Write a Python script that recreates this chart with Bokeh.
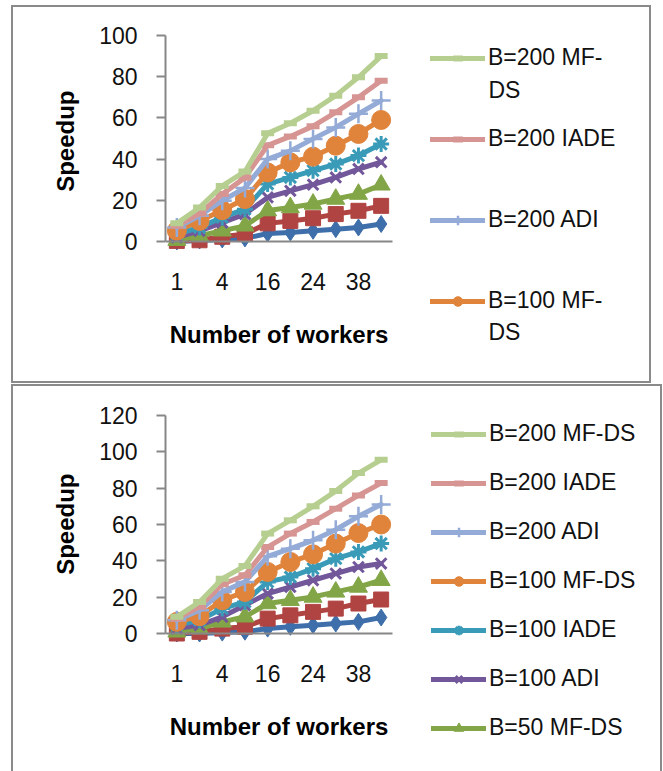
from bokeh.plotting import figure
from bokeh.layouts import column
from bokeh.models import Range1d, FixedTicker, Legend, LegendItem, Label
from bokeh.embed import file_html
from bokeh.resources import INLINE

# ---------------- data ----------------
category_labels = ["1", "", "4", "", "16", "", "24", "", "38", ""]
x_idx = list(range(len(category_labels)))

series_names = ["B=50 ADI", "B=50 IADE", "B=50 MF-DS", "B=100 ADI", "B=100 IADE",
                "B=100 MF-DS", "B=200 ADI", "B=200 IADE", "B=200 MF-DS"]

# top chart
top_b50_adi = [0.0, 0.5, 1.0, 1.5, 3.9, 4.4, 5.2, 6.0, 6.8, 8.5]
top_b50_iade = [0.3, 0.6, 2.3, 3.6, 8.8, 10.0, 11.3, 13.3, 14.9, 17.3]
top_b50_mfds = [0.6, 2.8, 5.2, 7.6, 15.0, 16.5, 18.2, 20.6, 23.0, 27.5]
top_b100_adi = [2.0, 5.2, 9.2, 13.3, 21.4, 24.6, 27.6, 31.1, 35.2, 38.5]
top_b100_iade = [3.6, 6.8, 11.7, 15.7, 27.9, 31.1, 34.4, 37.6, 41.7, 47.3]
top_b100_mfds = [5.2, 10.0, 15.2, 20.6, 33.5, 38.4, 41.2, 46.5, 52.2, 59.0]
top_b200_adi = [6.8, 12.5, 19.8, 26.0, 40.0, 44.0, 49.8, 55.4, 62.0, 68.4]
top_b200_iade = [7.6, 13.6, 23.0, 31.0, 46.7, 51.0, 56.0, 62.7, 70.0, 78.0]
top_b200_mfds = [8.8, 16.5, 27.0, 34.0, 52.5, 57.4, 63.5, 70.8, 79.7, 90.0]

# bottom chart
bot_b50_adi = [0.0, 0.0, 0.5, 1.0, 2.7, 3.7, 4.6, 5.5, 6.4, 8.8]
bot_b50_iade = [0.0, 0.9, 2.7, 3.7, 8.2, 10.0, 11.9, 13.7, 16.5, 18.7]
bot_b50_mfds = [0.9, 2.7, 6.4, 9.2, 16.5, 18.3, 20.1, 22.9, 25.6, 29.3]
bot_b100_adi = [2.7, 4.6, 9.2, 15.6, 22.0, 25.6, 29.3, 33.0, 36.6, 38.5]
bot_b100_iade = [4.6, 7.3, 13.7, 17.4, 28.4, 31.1, 35.7, 41.2, 44.9, 49.5]
bot_b100_mfds = [6.4, 9.5, 18.3, 22.9, 33.9, 39.4, 43.6, 49.5, 55.3, 60.0]
bot_b200_adi = [7.3, 12.8, 22.9, 28.4, 42.5, 46.7, 51.3, 57.1, 64.5, 71.0]
bot_b200_iade = [8.2, 14.7, 27.1, 32.0, 47.6, 55.0, 61.4, 68.7, 76.0, 82.8]
bot_b200_mfds = [9.2, 17.4, 30.2, 37.2, 55.0, 62.3, 70.0, 78.4, 88.3, 95.6]

top_series = [top_b50_adi, top_b50_iade, top_b50_mfds, top_b100_adi, top_b100_iade,
              top_b100_mfds, top_b200_adi, top_b200_iade, top_b200_mfds]
bot_series = [bot_b50_adi, bot_b50_iade, bot_b50_mfds, bot_b100_adi, bot_b100_iade,
              bot_b100_mfds, bot_b200_adi, bot_b200_iade, bot_b200_mfds]

# ---------------- styles ----------------
colors = ["#3F6FAA", "#B04442", "#82A647", "#72579A", "#3A9BB8",
          "#E0843C", "#93ABD6", "#D69593", "#B6CF90"]
markers = ["diamond", "square", "triangle", "x", "asterisk",
           "circle", "cross", "dash", "dash"]
msizes = [17, 15, 18, 15, 16, 19, 19, 13, 13]
mlw = [1, 1, 1, 3, 3, 1, 2.5, 6, 6]

FONT = "Liberation Sans"
AX_GRAY = "#878787"
PLOT_W = 227  # pixel width of the plotting area (10 categories)


def make_fig(values, ymax, ystep, width, height, plot_h, extra_below,
             mb_top, margin, shadow, title_offset):
    n = len(category_labels)
    frame_w = width - 154 - 6
    x_end = -0.5 + n * frame_w / PLOT_W
    y_start = -ymax * extra_below / plot_h
    p = figure(width=width, height=height, output_backend="svg", toolbar_location=None,
               x_range=Range1d(-0.5, x_end), y_range=Range1d(y_start, ymax),
               min_border_left=154, min_border_right=6,
               min_border_top=mb_top, min_border_bottom=height - mb_top - plot_h - extra_below,
               margin=margin, border_fill_color=None, background_fill_color=None,
               outline_line_color=None, styles={"box-shadow": shadow},
               title="Speedup", title_location="left")
    p.xgrid.visible = False
    p.ygrid.visible = False

    p.title.align = "right"
    p.title.offset = title_offset
    p.title.text_font = FONT
    p.title.text_font_size = "24px"
    p.title.text_font_style = "bold"
    p.title.text_color = "#000000"
    p.title.standoff = 36

    renderers = []
    for vals, c, m, s, lw in zip(values, colors, markers, msizes, mlw):
        ln = p.line(x_idx, vals, line_color=c, line_width=5, line_join="round", line_cap="round")
        sc = p.scatter(x_idx, vals, marker=m, size=s, fill_color=c, line_color=c, line_width=lw)
        renderers.append((ln, sc))

    p.xaxis.ticker = FixedTicker(ticks=[i for i, l in enumerate(category_labels) if l])
    p.xaxis.major_label_overrides = {i: l for i, l in enumerate(category_labels) if l}
    p.xaxis.bounds = (-0.5, n - 0.5)
    p.xaxis.fixed_location = 0
    p.yaxis.ticker = FixedTicker(ticks=list(range(0, ymax + 1, ystep)))
    p.yaxis.bounds = (0, ymax)

    for ax in (p.xaxis, p.yaxis):
        ax.axis_line_color = AX_GRAY
        ax.axis_line_width = 2
        ax.major_tick_line_color = AX_GRAY
        ax.major_tick_line_width = 2
        ax.minor_tick_line_color = None
        ax.major_label_text_font = FONT
        ax.major_label_text_font_size = "23px"
        ax.major_label_text_color = "#111111"
        ax.axis_label_text_font = FONT
        ax.axis_label_text_font_style = "bold"
        ax.axis_label_text_font_size = "24px"
        ax.axis_label_text_color = "#000000"
    p.xaxis.major_tick_out = 0
    p.xaxis.major_tick_in = 0
    p.yaxis.major_tick_out = 9
    p.yaxis.major_tick_in = 0
    p.xaxis.major_label_standoff = 31
    p.yaxis.major_label_standoff = 19
    p.xaxis.axis_label = "Number of workers"
    p.xaxis.axis_label_standoff = 28
    return p, renderers


def make_legend(items, location, spacing):
    return Legend(items=items, location=location, padding=0, margin=0, spacing=spacing,
                  glyph_width=55, glyph_height=24, label_height=24, label_standoff=3,
                  label_text_font=FONT, label_text_font_size="23px",
                  label_text_color="#111111", border_line_color=None,
                  background_fill_alpha=0)


# top chart: figure at page (11, 5); plot area 206 px tall; frame extends 129 px below 0
p1, r1 = make_fig(top_series, 100, 20, 640, 378, 206, 129, 30, (5, 0, 0, 11),
                  "inset 0 0 0 2px #8a8a8a", 55)
top_legend_labels = ["B=200 MF-", "B=200 IADE", "B=200 ADI", "B=100 MF-"]
top_legend_idx = [8, 7, 6, 5]
p1.add_layout(make_legend([LegendItem(label=l, renderers=list(r1[i]))
                           for l, i in zip(top_legend_labels, top_legend_idx)],
                          (265, 56), spacing=54), "center")
for ly in (281, 39):
    p1.add_layout(Label(x=323, y=ly, x_units="screen", y_units="screen", text="DS",
                        text_font=FONT, text_font_size="23px", text_color="#111111",
                        text_baseline="middle", text_align="left"))

# bottom chart: figure at page (11, 384); plot area 218 px tall; frame extends 131 px below 0
p2, r2 = make_fig(bot_series, 120, 20, 651, 387, 218, 131, 31, (1, 0, 0, 11),
                  "inset 2px 2px 0 0 #8a8a8a, inset -2px 0 0 0 #8a8a8a", 58)
bot_legend_labels = ["B=200 MF-DS", "B=200 IADE", "B=200 ADI", "B=100 MF-DS",
                     "B=100 IADE", "B=100 ADI", "B=50 MF-DS"]
bot_legend_idx = [8, 7, 6, 5, 4, 3, 2]
p2.add_layout(make_legend([LegendItem(label=l, renderers=list(r2[i]))
                           for l, i in zip(bot_legend_labels, bot_legend_idx)],
                          (266, 23), spacing=22), "center")

layout = column(p1, p2, spacing=0)
open("out.html", "w").write(file_html(layout, INLINE))
